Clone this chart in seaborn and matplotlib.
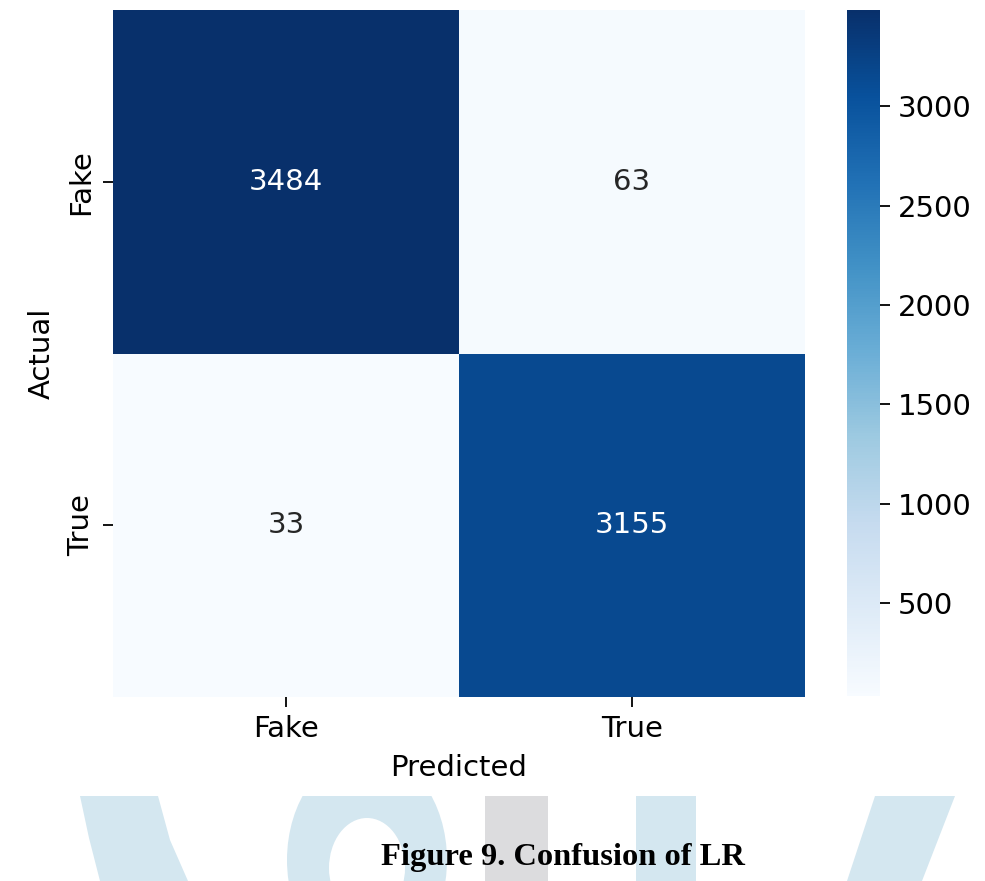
import matplotlib
matplotlib.use("Agg")
import matplotlib.pyplot as plt
import numpy as np
import pandas as pd
import seaborn as sns
from matplotlib.patches import Polygon, Ellipse, Rectangle

# Confusion matrix of the logistic regression model
classes = ["Fake", "True"]
row_fake = [3484, 63]
row_true = [33, 3155]
cbar_ticks = [500, 1000, 1500, 2000, 2500, 3000]

cm = pd.DataFrame([row_fake, row_true], index=classes, columns=classes)

W, H = 985, 881
fig = plt.figure(figsize=(W / 100, H / 100), dpi=100)
fig.patch.set_facecolor("white")

# Background page ornament (pixel coordinates, y grows downward)
bg = fig.add_axes([0, 0, 1, 1], zorder=0)
bg.set_xlim(0, W)
bg.set_ylim(H, 0)
bg.axis("off")
wm_blue = "#d4e7f0"
wm_gray = "#dcdcde"
bg.add_patch(Polygon([(80, 796), (89, 838), (100, 881), (188, 881), (170, 840), (158, 796)],
                     closed=True, facecolor=wm_blue, edgecolor="none"))
bg.add_patch(Ellipse((367, 860), 160, 216, facecolor=wm_blue, edgecolor="none"))
bg.add_patch(Ellipse((367, 868), 76, 100, facecolor="white", edgecolor="none"))
bg.add_patch(Rectangle((485, 796), 63, 90, facecolor=wm_gray, edgecolor="none"))
bg.add_patch(Rectangle((636, 796), 60, 90, facecolor=wm_blue, edgecolor="none"))
bg.add_patch(Polygon([(875, 796), (955, 796), (922, 881), (847, 881)],
                     closed=True, facecolor=wm_blue, edgecolor="none"))
bg.add_patch(Rectangle((0, 0), W, 796, facecolor="white", edgecolor="none"))

fs = 21
ax = fig.add_axes([113 / W, 1 - 697 / H, 692 / W, 687 / H], zorder=2)
cax = fig.add_axes([847 / W, 1 - 696 / H, 33 / W, 686 / H], zorder=2)

sns.heatmap(cm, annot=True, fmt="d", cmap="Blues", ax=ax, cbar_ax=cax,
            annot_kws={"size": fs},
            cbar_kws={"ticks": cbar_ticks})

ax.set_xlabel("Predicted", fontsize=fs, labelpad=8)
ax.set_ylabel("Actual", fontsize=fs, labelpad=8)
ax.tick_params(axis="both", labelsize=fs, length=7, width=1.3, pad=6)
ax.set_yticklabels(classes, rotation=90, va="center")
ax.set_xticklabels(classes, rotation=0)

cax.tick_params(labelsize=fs, length=7, width=1.3, pad=6)

fig.text(563 / W, 1 - 865 / H, "Figure 9. Confusion of LR",
         ha="center", va="baseline", fontsize=23.4, fontweight="bold",
         family="Liberation Serif", zorder=5)

fig.savefig("out.png", dpi=100, facecolor="white")
